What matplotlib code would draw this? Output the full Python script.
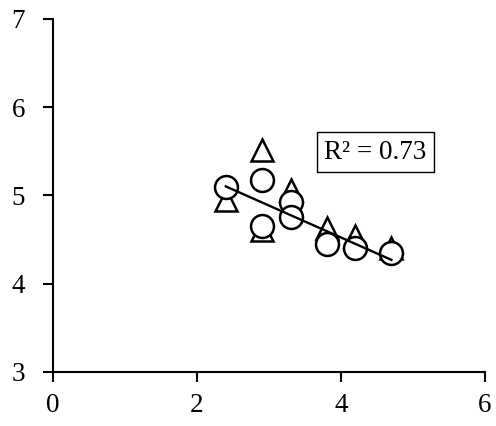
import numpy as np
import matplotlib.pyplot as plt

plt.rcParams['font.family'] = ['Liberation Serif', 'DejaVu Serif']

# data
circle_x = [2.4, 2.9, 2.9, 3.3, 3.3, 3.8, 4.2, 4.7]
circle_y = [5.10, 5.18, 4.65, 4.93, 4.76, 4.45, 4.40, 4.35]
triangle_x = [2.4, 2.9, 2.9, 3.3, 3.8, 4.2, 4.7]
triangle_y = [4.95, 5.52, 4.61, 5.06, 4.63, 4.54, 4.40]
x_ticks = [0, 2, 4, 6]
y_ticks = [3, 4, 5, 6, 7]

fig = plt.figure(figsize=(4.96, 4.26), dpi=100)
ax = fig.add_axes([0.1069, 0.1268, 0.8709, 0.8286])

ax.plot(triangle_x, triangle_y, linestyle='none', marker='^', markersize=16.5,
        markerfacecolor='white', markeredgecolor='black', markeredgewidth=1.8,
        zorder=2, clip_on=False)
ax.plot(circle_x, circle_y, linestyle='none', marker='o', markersize=16.5,
        markerfacecolor='white', markeredgecolor='black', markeredgewidth=1.8,
        zorder=3, clip_on=False)

# linear trendline through the circles
slope, intercept = np.polyfit(circle_x, circle_y, 1)
xs = np.array([min(circle_x), max(circle_x)])
ax.plot(xs, slope * xs + intercept, color='black', linewidth=1.7, zorder=4)
r2 = np.corrcoef(circle_x, circle_y)[0, 1] ** 2

ax.text(4.48, 5.49, f"R² = {r2:.2f}", fontsize=19.5, ha='center', va='center',
        bbox=dict(boxstyle='square,pad=0.28', facecolor='white',
                  edgecolor='black', linewidth=1.0), zorder=5)

ax.set_xlim(0, 6)
ax.set_ylim(3, 7)
ax.set_xticks(x_ticks)
ax.set_yticks(y_ticks)
ax.spines['top'].set_visible(False)
ax.spines['right'].set_visible(False)
ax.spines['left'].set_linewidth(1.5)
ax.spines['bottom'].set_linewidth(1.5)
ax.tick_params(direction='out', length=7, width=1.5, labelsize=19.5)
ax.tick_params(axis='y', pad=13)
ax.tick_params(axis='x', pad=8)

fig.savefig('out.png', dpi=100)
